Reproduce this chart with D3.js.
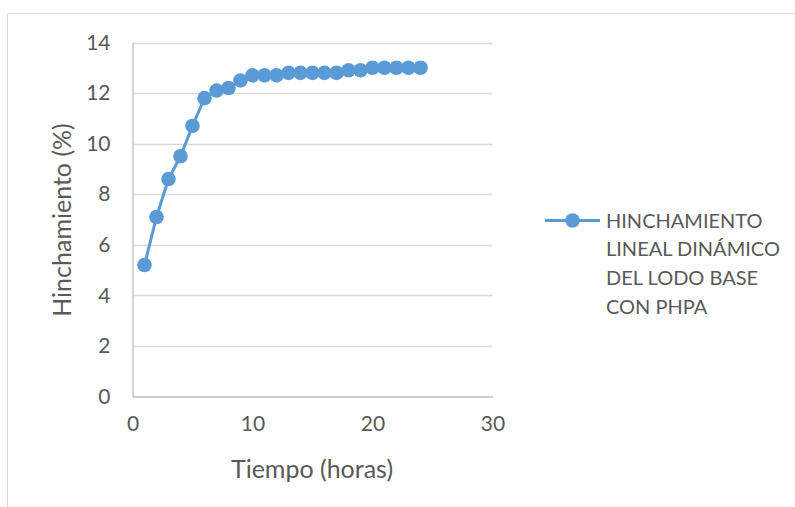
<!DOCTYPE html>
<html>
<head>
<meta charset="utf-8">
<script src="https://cdn.jsdelivr.net/npm/d3@7"></script>
<style>
  html, body { margin: 0; padding: 0; background: #fff; }
  svg { display: block; }
  text { font-family: Lato, "Open Sans", sans-serif; fill: #595959; }
</style>
</head>
<body>
<svg id="chart" width="795" height="507"></svg>
<script>
// Dynamic linear swelling of the base mud with PHPA, hourly readings
const hours = [1, 2, 3, 4, 5, 6, 7, 8, 9, 10, 11, 12, 13, 14, 15, 16, 17, 18, 19, 20, 21, 22, 23, 24];
const swelling = [5.2, 7.1, 8.6, 9.5, 10.7, 11.8, 12.1, 12.2, 12.5, 12.7, 12.7, 12.7, 12.8, 12.8, 12.8, 12.8, 12.8, 12.9, 12.9, 13.0, 13.0, 13.0, 13.0, 13.0];
const xTicks = [0, 10, 20, 30];
const yTicks = [0, 2, 4, 6, 8, 10, 12, 14];
const seriesName = ["HINCHAMIENTO", "LINEAL DINÁMICO", "DEL LODO BASE", "CON PHPA"];
const xTitle = "Tiempo (horas)";
const yTitle = "Hinchamiento (%)";

const color = "#5B9BD5";
const svg = d3.select("#chart");

// chart frame (only top and left edges fall inside the view)
svg.append("line").attr("x1", 7.5).attr("x2", 795).attr("y1", 13.5).attr("y2", 13.5)
  .attr("stroke", "#D9D9D9").attr("stroke-width", 1);
svg.append("line").attr("x1", 7.5).attr("x2", 7.5).attr("y1", 13.5).attr("y2", 507)
  .attr("stroke", "#D9D9D9").attr("stroke-width", 1);

const plot = { left: 132.5, right: 492.5, top: 42.5, bottom: 396.5 };
const x = d3.scaleLinear().domain([0, 30]).range([plot.left, plot.right]);
const y = d3.scaleLinear().domain([0, 14]).range([plot.bottom, plot.top]);

// horizontal gridlines
svg.append("g").selectAll("line").data(yTicks.filter(d => d > 0)).join("line")
  .attr("x1", plot.left).attr("x2", plot.right)
  .attr("y1", d => Math.round(y(d)) + 0.5).attr("y2", d => Math.round(y(d)) + 0.5)
  .attr("stroke", "#D9D9D9").attr("stroke-width", 1.3);

// y axis
const yAxis = svg.append("g").attr("transform", `translate(${plot.left},0)`)
  .call(d3.axisLeft(y).tickValues(yTicks).tickSize(0).tickPadding(22));
yAxis.select(".domain").attr("stroke", "#BFBFBF").attr("stroke-width", 1.3);
yAxis.selectAll("text").attr("font-size", 21).attr("font-family", "Lato").attr("fill", "#595959");

// x axis
const xAxis = svg.append("g").attr("transform", `translate(0,${plot.bottom})`)
  .call(d3.axisBottom(x).tickValues(xTicks).tickSize(0).tickPadding(20));
xAxis.select(".domain").attr("stroke", "#BFBFBF").attr("stroke-width", 1.3);
xAxis.selectAll("text").attr("font-size", 21).attr("font-family", "Lato").attr("fill", "#595959");

// axis titles
svg.append("text").attr("x", 312).attr("y", 478).attr("text-anchor", "middle")
  .attr("font-size", 25).text(xTitle);
svg.append("text").attr("transform", "translate(71,220) rotate(-90)")
  .attr("text-anchor", "middle").attr("font-size", 25).text(yTitle);

// series line and markers
const line = d3.line().x((d, i) => x(hours[i])).y(d => y(d));
svg.append("path").datum(swelling).attr("d", line)
  .attr("fill", "none").attr("stroke", color).attr("stroke-width", 3)
  .attr("stroke-linejoin", "round");
svg.append("g").selectAll("circle").data(swelling).join("circle")
  .attr("cx", (d, i) => x(hours[i])).attr("cy", d => y(d)).attr("r", 7.3)
  .attr("fill", color);

// legend
const lg = svg.append("g").attr("transform", "translate(545,220.5)");
lg.append("line").attr("x1", 0).attr("x2", 55).attr("y1", 0).attr("y2", 0)
  .attr("stroke", color).attr("stroke-width", 3);
lg.append("circle").attr("cx", 27.5).attr("cy", 0).attr("r", 7.3).attr("fill", color);
lg.append("text").attr("x", 61).attr("y", 7).attr("font-size", 20)
  .selectAll("tspan").data(seriesName).join("tspan")
  .attr("x", 61).attr("dy", (d, i) => i === 0 ? 0 : 28.7).text(d => d);
</script>
</body>
</html>
